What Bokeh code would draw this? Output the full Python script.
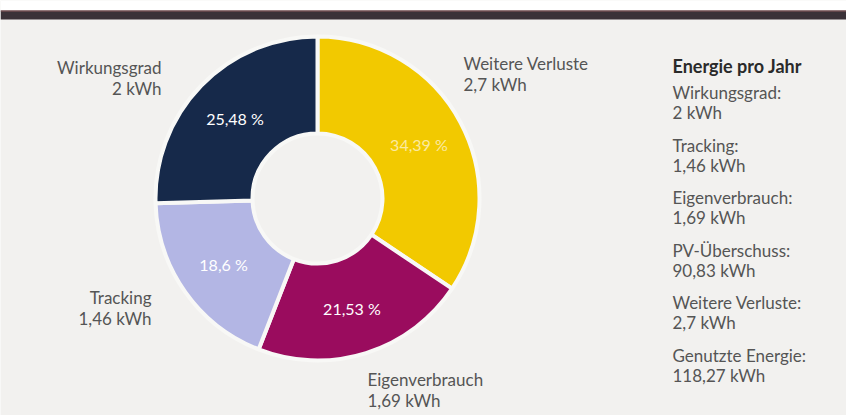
import numpy as np
from bokeh.plotting import figure
from bokeh.models import Range1d, ColumnDataSource
from bokeh.core.properties import value
from bokeh.embed import file_html
from bokeh.resources import INLINE

# ---- data ----
slice_names = ["Weitere Verluste", "Eigenverbrauch", "Tracking", "Wirkungsgrad"]
slice_kwh = [2.7, 1.69, 1.46, 2.0]
slice_colors = ["#f2c900", "#9a0c5e", "#b3b6e4", "#16294a"]
pct_colors = ["#fbeaa0", "#ffffff", "#ffffff", "#ffffff"]

legend_title = "Energie pro Jahr"
legend_names = ["Wirkungsgrad", "Tracking", "Eigenverbrauch", "PV-Überschuss",
                "Weitere Verluste", "Genutzte Energie"]
legend_kwh = [2.0, 1.46, 1.69, 90.83, 2.7, 118.27]

W, H = 846, 415
FONT = "Lato"
TXT = "#555555"
BG = "#f2f1ef"


def de(v, nd=2):
    s = f"{v:.{nd}f}".rstrip("0").rstrip(".")
    return s.replace(".", ",")


def Y(ypix):
    return H - ypix


p = figure(width=W, height=H, output_backend="svg", toolbar_location=None,
           x_range=Range1d(0, W), y_range=Range1d(0, H),
           x_axis_type=None, y_axis_type=None, min_border=0,
           background_fill_color=BG, border_fill_color=BG, outline_line_color=None)
p.grid.visible = False

# header strip and dark rule
p.quad(left=0, right=W, top=Y(0), bottom=Y(10), fill_color="#ffffff", line_color=None)
p.quad(left=0, right=W, top=Y(10), bottom=Y(19), fill_color="#3a3238", line_color=None)
p.quad(left=0, right=W, top=Y(10), bottom=Y(11), fill_color="#8a5a5c", line_color=None)

# ---- donut ----
cx, cy = 317, Y(198)
r_in, r_out = 65, 162
vals = np.array(slice_kwh)
frac = vals / vals.sum()
ends = np.pi / 2 - 2 * np.pi * np.cumsum(frac)
starts = np.concatenate([[np.pi / 2], ends[:-1]])
src = ColumnDataSource(dict(start=ends, end=starts, color=slice_colors))
p.annular_wedge(x=cx, y=cy, inner_radius=r_in, outer_radius=r_out,
                start_angle="start", end_angle="end", fill_color="color",
                line_color="#f8f8f6", line_width=4, source=src)

mid = (starts + ends) / 2
r_lab = 115
px = cx + r_lab * np.cos(mid)
py = cy + r_lab * np.sin(mid)
pct_txt = [de(f * 100) + " %" for f in frac]
p.text(x=px, y=py, text=pct_txt, text_color=pct_colors, text_align="center",
       text_baseline="middle", text_font=value(FONT), text_font_size="16px")

# ---- outer labels ----
lab_pos = {
    "Weitere Verluste": (463, 63, "left"),
    "Eigenverbrauch": (367, 379, "left"),
    "Tracking": (151, 297, "right"),
    "Wirkungsgrad": (161, 67, "right"),
}
for name, kwh in zip(slice_names, slice_kwh):
    x0, y0, al = lab_pos[name]
    p.text(x=[x0, x0], y=[Y(y0), Y(y0 + 21)], text=[name, de(kwh) + " kWh"],
           text_color=TXT, text_align=al, text_baseline="middle",
           text_font=value(FONT), text_font_size="17px")

# ---- right legend ----
lx = 672
p.text(x=[lx], y=[Y(65)], text=[legend_title], text_color="#2a2a2a",
       text_font_style="bold", text_align="left", text_baseline="middle",
       text_font=value(FONT), text_font_size="18px")
for i, (n, v) in enumerate(zip(legend_names, legend_kwh)):
    y0 = 92 + i * 52.6
    p.text(x=[lx, lx], y=[Y(y0), Y(y0 + 20)], text=[n + ":", de(v) + " kWh"],
           text_color=TXT, text_align="left", text_baseline="middle",
           text_font=value(FONT), text_font_size="17px")

open("out.html", "w").write(file_html(p, INLINE))
